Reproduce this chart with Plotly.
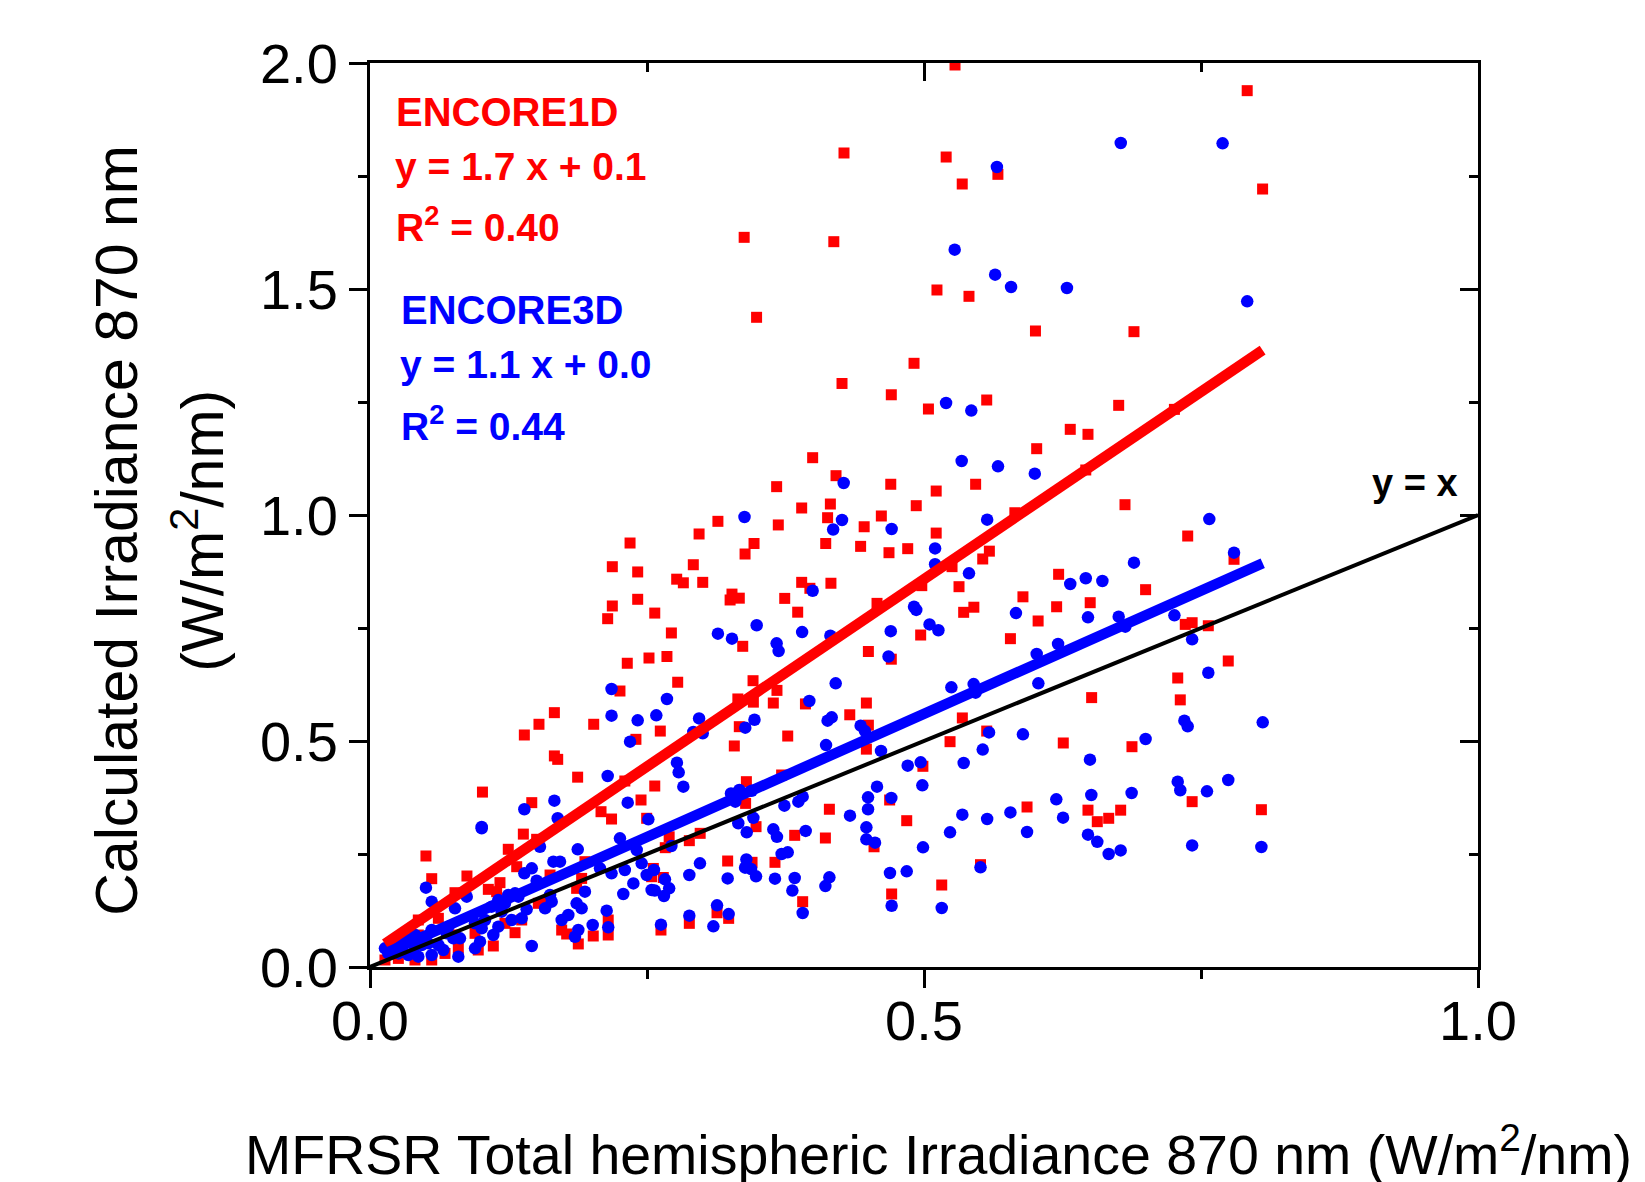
import plotly.graph_objects as go

# ---------------- data ----------------
# ENCORE1D vs MFRSR (red squares)
red_points = [
    (0.4278, 1.8009), (0.3377, 1.6143), (0.4186, 1.6047), (0.3489, 1.4374), (0.491, 1.3356),
    (0.528, 1.9956), (0.520, 1.792), (0.5345, 1.7323), (0.5667, 1.7537), (0.7917, 1.9388),
    (0.8056, 1.7212), (0.5117, 1.4978), (0.5406, 1.4838), (0.6006, 1.4071), (0.6895, 1.4056),
    (0.2347, 0.938), (0.2187, 0.8856), (0.2416, 0.874), (0.2187, 0.7987), (0.2416, 0.8135),
    (0.2145, 0.7706), (0.2322, 0.672), (0.2518, 0.6836),
    (0.426, 1.291), (0.4705, 1.266), (0.504, 1.2345), (0.3995, 1.1268), (0.4206, 1.087),
    (0.470, 1.068), (0.367, 1.0627), (0.4155, 1.0243), (0.3896, 1.0155), (0.413, 0.994),
    (0.3685, 0.978), (0.314, 0.986), (0.297, 0.958), (0.3466, 0.937), (0.3385, 0.9137),
    (0.4113, 0.937), (0.446, 0.974), (0.4615, 0.9978), (0.4428, 0.9306), (0.4684, 0.9166),
    (0.4853, 0.9255), (0.493, 1.0206), (0.511, 1.053), (0.511, 0.96), (0.2918, 0.890),
    (0.2768, 0.858), (0.2828, 0.850), (0.3003, 0.851), (0.3267, 0.825), (0.3333, 0.816),
    (0.325, 0.812), (0.3896, 0.851), (0.397, 0.8378), (0.416, 0.849), (0.3743, 0.8155),
    (0.386, 0.785), (0.4576, 0.8045), (0.498, 0.8437), (0.257, 0.783), (0.272, 0.739),
    (0.3364, 0.7095), (0.268, 0.687), (0.4498, 0.698), (0.497, 0.7345), (0.4705, 0.681),
    (0.5566, 1.2544), (0.6757, 1.2426), (0.632, 1.1895), (0.648, 1.1785), (0.6017, 1.1467),
    (0.5466, 1.068), (0.6814, 1.0228), (0.738, 0.9535), (0.559, 0.920), (0.553, 0.9027),
    (0.5253, 0.8857), (0.5316, 0.8414), (0.5358, 0.7847), (0.545, 0.796), (0.5893, 0.819),
    (0.6215, 0.8688), (0.6197, 0.797), (0.65, 0.806), (0.603, 0.7655), (0.578, 0.7264),
    (0.700, 0.8348), (0.7358, 0.758), (0.742, 0.7617), (0.7566, 0.755), (0.582, 1.005),
    (0.646, 1.0996), (0.726, 1.2337),
    (0.7798, 0.902), (0.7746, 0.677), (0.8045, 0.348),
    (0.729, 0.6394), (0.7313, 0.591), (0.6513, 0.596), (0.5346, 0.551), (0.5566, 0.522),
    (0.5235, 0.4985), (0.6257, 0.4956), (0.6877, 0.4874), (0.593, 0.354), (0.648, 0.347),
    (0.6564, 0.3215), (0.6667, 0.329), (0.6775, 0.347), (0.742, 0.3658), (0.551, 0.2264),
    (0.516, 0.1814),
    (0.2777, 0.630), (0.3457, 0.6334), (0.3673, 0.612), (0.332, 0.593), (0.346, 0.586),
    (0.364, 0.584), (0.393, 0.582), (0.448, 0.584), (0.433, 0.558), (0.4498, 0.535),
    (0.262, 0.522), (0.3333, 0.5317), (0.377, 0.511), (0.3288, 0.489), (0.448, 0.482),
    (0.257, 0.4004), (0.3397, 0.410), (0.3715, 0.4248), (0.339, 0.362), (0.4146, 0.349),
    (0.469, 0.3695), (0.499, 0.444), (0.4844, 0.3237),
    (0.3484, 0.3105), (0.3833, 0.2913), (0.411, 0.2854), (0.298, 0.2957), (0.2882, 0.2795),
    (0.27, 0.288), (0.2665, 0.264), (0.4549, 0.266), (0.3228, 0.2345), (0.3448, 0.2316),
    (0.3655, 0.2316), (0.2557, 0.218), (0.2647, 0.198), (0.3905, 0.1445), (0.4708, 0.1615),
    (0.3132, 0.120), (0.3237, 0.1076), (0.2882, 0.0966), (0.2626, 0.0818),
    (0.2256, 0.6106), (0.1664, 0.5627), (0.1525, 0.537), (0.1393, 0.5133), (0.2019, 0.537),
    (0.240, 0.5037), (0.1664, 0.467), (0.1694, 0.4594), (0.1874, 0.420), (0.1015, 0.387),
    (0.146, 0.3636), (0.230, 0.4115), (0.2446, 0.3695), (0.2085, 0.3436), (0.218, 0.3274),
    (0.2497, 0.329),
    (0.1384, 0.294), (0.1504, 0.2825), (0.0505, 0.2456), (0.1248, 0.2604), (0.1324, 0.2219),
    (0.0557, 0.1954), (0.0875, 0.2013), (0.0767, 0.1644), (0.1068, 0.1718), (0.1173, 0.1866),
    (0.1143, 0.1666), (0.1625, 0.2035), (0.191, 0.196), (0.1865, 0.174), (0.194, 0.233),
    (0.0436, 0.104), (0.0617, 0.1077), (0.0948, 0.0745), (0.1113, 0.0465), (0.1309, 0.0759),
    (0.0977, 0.0376), (0.173, 0.0818), (0.1775, 0.073), (0.188, 0.051), (0.2015, 0.0686),
    (0.215, 0.0708), (0.215, 0.104), (0.2542, 0.1998), (0.1595, 0.1445), (0.0797, 0.0413),
    (0.0677, 0.030), (0.0557, 0.0155), (0.0406, 0.0155), (0.0256, 0.019), (0.0135, 0.0155),
    (0.0436, 0.0708), (0.0767, 0.0708), (0.1218, 0.0966), (0.1369, 0.104), (0.1519, 0.1409),
]

# ENCORE3D vs MFRSR (blue circles)
blue_points = [
    (0.6776, 1.823), (0.7695, 1.8223), (0.5658, 1.7699), (0.5277, 1.587), (0.5642, 1.5317),
    (0.5786, 1.5044), (0.629, 1.5022), (0.7917, 1.4727),
    (0.4275, 1.0708), (0.338, 0.9956), (0.426, 0.989), (0.418, 0.968), (0.4708, 0.969),
    (0.51, 0.926), (0.51, 0.891), (0.3995, 0.8325), (0.491, 0.797), (0.493, 0.790),
    (0.505, 0.758), (0.314, 0.7374), (0.3267, 0.7264), (0.349, 0.756), (0.367, 0.716),
    (0.3688, 0.699), (0.39, 0.741), (0.4155, 0.733), (0.47, 0.743), (0.468, 0.687),
    (0.5199, 1.2478), (0.5427, 1.231), (0.534, 1.1195), (0.5668, 1.1077), (0.600, 1.0914),
    (0.557, 0.9897), (0.5406, 0.871), (0.6895, 0.8945), (0.632, 0.8473), (0.646, 0.860),
    (0.661, 0.854), (0.7575, 0.991), (0.583, 0.783), (0.648, 0.7736), (0.6757, 0.775),
    (0.726, 0.778), (0.6817, 0.7529), (0.742, 0.725), (0.513, 0.745), (0.621, 0.7146),
    (0.6017, 0.6925), (0.7566, 0.651),
    (0.7798, 0.9166), (0.8057, 0.5413), (0.7746, 0.4137), (0.8045, 0.2655),
    (0.5247, 0.6188), (0.5448, 0.626), (0.5466, 0.607), (0.6032, 0.6276), (0.5587, 0.519),
    (0.5893, 0.5148), (0.553, 0.481), (0.5358, 0.4513), (0.6498, 0.4587), (0.700, 0.5044),
    (0.735, 0.545), (0.738, 0.5325), (0.729, 0.410), (0.7313, 0.391), (0.7554, 0.3886),
    (0.651, 0.3805), (0.6874, 0.385), (0.6194, 0.371), (0.5346, 0.337), (0.557, 0.3274),
    (0.578, 0.342), (0.6255, 0.3304), (0.5235, 0.298), (0.593, 0.2987), (0.648, 0.2927),
    (0.6564, 0.277), (0.6667, 0.25), (0.6775, 0.258), (0.742, 0.269), (0.551, 0.2205),
    (0.516, 0.1305),
    (0.268, 0.593), (0.2584, 0.5568), (0.297, 0.550), (0.2918, 0.520), (0.3003, 0.517),
    (0.347, 0.547), (0.3387, 0.5295), (0.4203, 0.6276), (0.3965, 0.5885), (0.413, 0.545),
    (0.4167, 0.5524), (0.4428, 0.534), (0.4467, 0.522), (0.4116, 0.491), (0.4612, 0.478),
    (0.277, 0.452), (0.2786, 0.4307), (0.2828, 0.399), (0.3258, 0.384), (0.3333, 0.3916),
    (0.3297, 0.3657), (0.3445, 0.390), (0.3905, 0.3768), (0.3866, 0.3657), (0.374, 0.357),
    (0.346, 0.330), (0.4853, 0.4454), (0.497, 0.4528), (0.4985, 0.402), (0.4576, 0.399),
    (0.4495, 0.3754), (0.4705, 0.374), (0.4495, 0.349), (0.4332, 0.3348),
    (0.34, 0.298), (0.364, 0.3046), (0.3673, 0.288), (0.3932, 0.301), (0.448, 0.309),
    (0.448, 0.2825), (0.4558, 0.275), (0.4991, 0.2648), (0.3324, 0.318), (0.2978, 0.2294),
    (0.2882, 0.2035), (0.3228, 0.196), (0.3397, 0.238), (0.3385, 0.2197), (0.3439, 0.2168),
    (0.3484, 0.2006), (0.3715, 0.25), (0.377, 0.2537), (0.3655, 0.1954), (0.3833, 0.197),
    (0.3812, 0.169), (0.4146, 0.1984), (0.411, 0.179), (0.4693, 0.208), (0.4844, 0.2117),
    (0.4708, 0.1356), (0.3905, 0.1195), (0.3132, 0.1365), (0.3237, 0.117), (0.2882, 0.1135),
    (0.3099, 0.090), (0.2626, 0.0936), (0.2563, 0.2146), (0.257, 0.169), (0.2662, 0.194),
    (0.27, 0.174), (0.2653, 0.157), (0.272, 0.2677),
    (0.218, 0.615), (0.218, 0.556), (0.2416, 0.5457), (0.2347, 0.4985), (0.2145, 0.4226),
    (0.1664, 0.368), (0.1393, 0.349), (0.2326, 0.3636), (0.1694, 0.329), (0.2512, 0.3267),
    (0.1008, 0.310),
    (0.1008, 0.3068), (0.1534, 0.266), (0.1875, 0.2604), (0.2256, 0.2847), (0.2407, 0.2588),
    (0.0505, 0.1755), (0.0557, 0.1445), (0.0767, 0.1298), (0.0873, 0.1556), (0.1393, 0.2072),
    (0.146, 0.2183), (0.1655, 0.233), (0.1715, 0.233), (0.1504, 0.191), (0.1625, 0.1593),
    (0.164, 0.1445), (0.158, 0.1298), (0.1414, 0.1276), (0.1339, 0.1556), (0.1248, 0.1593),
    (0.1865, 0.1409), (0.191, 0.1298), (0.194, 0.1666), (0.173, 0.104), (0.179, 0.115),
    (0.188, 0.0818), (0.185, 0.067), (0.201, 0.093), (0.2136, 0.1246), (0.215, 0.0878),
    (0.2286, 0.1615), (0.2377, 0.185), (0.218, 0.2072), (0.23, 0.2146), (0.2452, 0.2293),
    (0.2497, 0.2035), (0.2542, 0.1704), (0.2076, 0.2183), (0.146, 0.0465), (0.1279, 0.104),
    (0.1369, 0.1077), (0.1158, 0.0892), (0.1113, 0.0708), (0.1008, 0.0856), (0.0948, 0.0413),
    (0.0993, 0.056), (0.0812, 0.0635), (0.0797, 0.0228), (0.0662, 0.0376), (0.0557, 0.0265),
    (0.0436, 0.0228), (0.0346, 0.0265), (0.0256, 0.030), (0.0165, 0.030), (0.0135, 0.0413),
    (0.0226, 0.0524), (0.0316, 0.0635), (0.0406, 0.0708), (0.0467, 0.0487), (0.0526, 0.0524),
    (0.0692, 0.0745), (0.0752, 0.0635), (0.0617, 0.0487), (0.0948, 0.0966), (0.1038, 0.104),
    (0.1188, 0.1224), (0.1098, 0.1334), (0.1218, 0.1409), (0.1158, 0.148), (0.1309, 0.163),
    (0.0707, 0.0892), (0.0557, 0.0818), (0.0406, 0.045), (0.0286, 0.045),
]

# linear fits as drawn (slope, intercept)
red_fit = (1.658, 0.029)
blue_fit = (1.09, 0.015)
identity_x = [0.0, 1.0]

x_ticks = [0.0, 0.5, 1.0]
y_ticks = [0.0, 0.5, 1.0, 1.5, 2.0]

FONT = "Liberation Sans, Arial, sans-serif"
RED = "#FF0000"
BLUE = "#0000FF"

red_x = [p[0] for p in red_points]
red_y = [p[1] for p in red_points]
blue_x = [p[0] for p in blue_points]
blue_y = [p[1] for p in blue_points]


def fit_line(xs, fit):
    lo, hi = min(xs), max(xs)
    return [lo, hi], [fit[0] * lo + fit[1], fit[0] * hi + fit[1]]


rfx, rfy = fit_line(red_x, red_fit)
bfx, bfy = fit_line(blue_x, blue_fit)

fig = go.Figure()
fig.add_trace(go.Scatter(x=red_x, y=red_y, mode="markers", showlegend=False,
                         marker=dict(symbol="square", size=11, color=RED, line=dict(width=0))))
fig.add_trace(go.Scatter(x=blue_x, y=blue_y, mode="markers", showlegend=False,
                         marker=dict(symbol="circle", size=12.5, color=BLUE, line=dict(width=0))))
fig.add_trace(go.Scatter(x=rfx, y=rfy, mode="lines", showlegend=False,
                         line=dict(color=RED, width=10.5)))
fig.add_trace(go.Scatter(x=bfx, y=bfy, mode="lines", showlegend=False,
                         line=dict(color=BLUE, width=10.5)))
fig.add_trace(go.Scatter(x=identity_x, y=identity_x, mode="lines", showlegend=False,
                         line=dict(color="black", width=4)))
# helper trace so that the top / right mirror axes (inward ticks) are drawn
fig.add_trace(go.Scatter(x=[None], y=[None], xaxis="x2", yaxis="y2", mode="markers",
                         showlegend=False, hoverinfo="skip"))

tickfont = dict(family=FONT, size=56, color="black")
common = dict(showgrid=False, zeroline=False, tickcolor="black", tickwidth=3, ticklen=18)

# the page body has an 8 px default margin, so the figure is 8 px smaller
fig.update_layout(
    width=1637, height=1174, autosize=False,
    margin=dict(l=362, r=167, t=55, b=215),
    plot_bgcolor="white", paper_bgcolor="white",
    xaxis=dict(range=[0, 1], tickvals=x_ticks, ticktext=[f"{v:.1f}" for v in x_ticks],
               ticks="outside", showline=True, linewidth=3, linecolor="black", mirror=True,
               tickfont=tickfont, ticklabelstandoff=-15,
               minor=dict(dtick=0.25, tick0=0, ticks="outside", ticklen=9, tickwidth=3,
                          tickcolor="black", showgrid=False),
               **common),
    yaxis=dict(range=[0, 2], tickvals=y_ticks, ticktext=[f"{v:.1f}" for v in y_ticks],
               ticks="outside", showline=True, linewidth=3, linecolor="black", mirror=True,
               tickfont=tickfont,
               minor=dict(dtick=0.25, tick0=0, ticks="outside", ticklen=9, tickwidth=3,
                          tickcolor="black", showgrid=False),
               **common),
    xaxis2=dict(range=[0, 1], overlaying="x", side="top", anchor="y2", tickvals=x_ticks,
                ticks="inside", showticklabels=False, showline=False,
                minor=dict(dtick=0.25, tick0=0, ticks="inside", ticklen=9, tickwidth=3,
                           tickcolor="black", showgrid=False),
                **common),
    yaxis2=dict(range=[0, 2], overlaying="y", side="right", anchor="x2", tickvals=y_ticks,
                ticks="inside", showticklabels=False, showline=False,
                minor=dict(dtick=0.25, tick0=0, ticks="inside", ticklen=9, tickwidth=3,
                           tickcolor="black", showgrid=False),
                **common),
)

ann = []


def add_text(text, x, y, size, color, bold=True, xanchor="left", angle=0):
    ann.append(dict(text=f"<b>{text}</b>" if bold else text, x=x, y=y, xref="paper", yref="paper",
                    xanchor=xanchor, yanchor="middle", showarrow=False, textangle=angle,
                    font=dict(family=FONT, size=size, color=color)))


add_text("ENCORE1D", 0.0217, 0.946, 40, RED)
add_text("y = 1.7 x + 0.1", 0.0208, 0.886, 39, RED)
add_text("R<sup>2</sup> = 0.40", 0.0217, 0.821, 39, RED)
add_text("ENCORE3D", 0.0262, 0.7268, 40, BLUE)
add_text("y = 1.1 x + 0.0", 0.0253, 0.666, 39, BLUE)
add_text("R<sup>2</sup> = 0.44", 0.0262, 0.6014, 39, BLUE)
add_text("y = x", 0.9025, 0.5354, 38, "black")

add_text("MFRSR Total hemispheric Irradiance 870 nm (W/m<sup>2</sup>/nm)", 0.513, -0.2035, 55.5,
         "black", bold=False, xanchor="center")
add_text("Calculated Irradiance 870 nm", -0.228, 0.483, 59, "black", bold=False,
         xanchor="center", angle=-90)
add_text("(W/m<sup>2</sup>/nm)", -0.155, 0.483, 59, "black", bold=False,
         xanchor="center", angle=-90)

fig.update_layout(annotations=ann)

fig.write_html("out.html", config={"displayModeBar": False})
